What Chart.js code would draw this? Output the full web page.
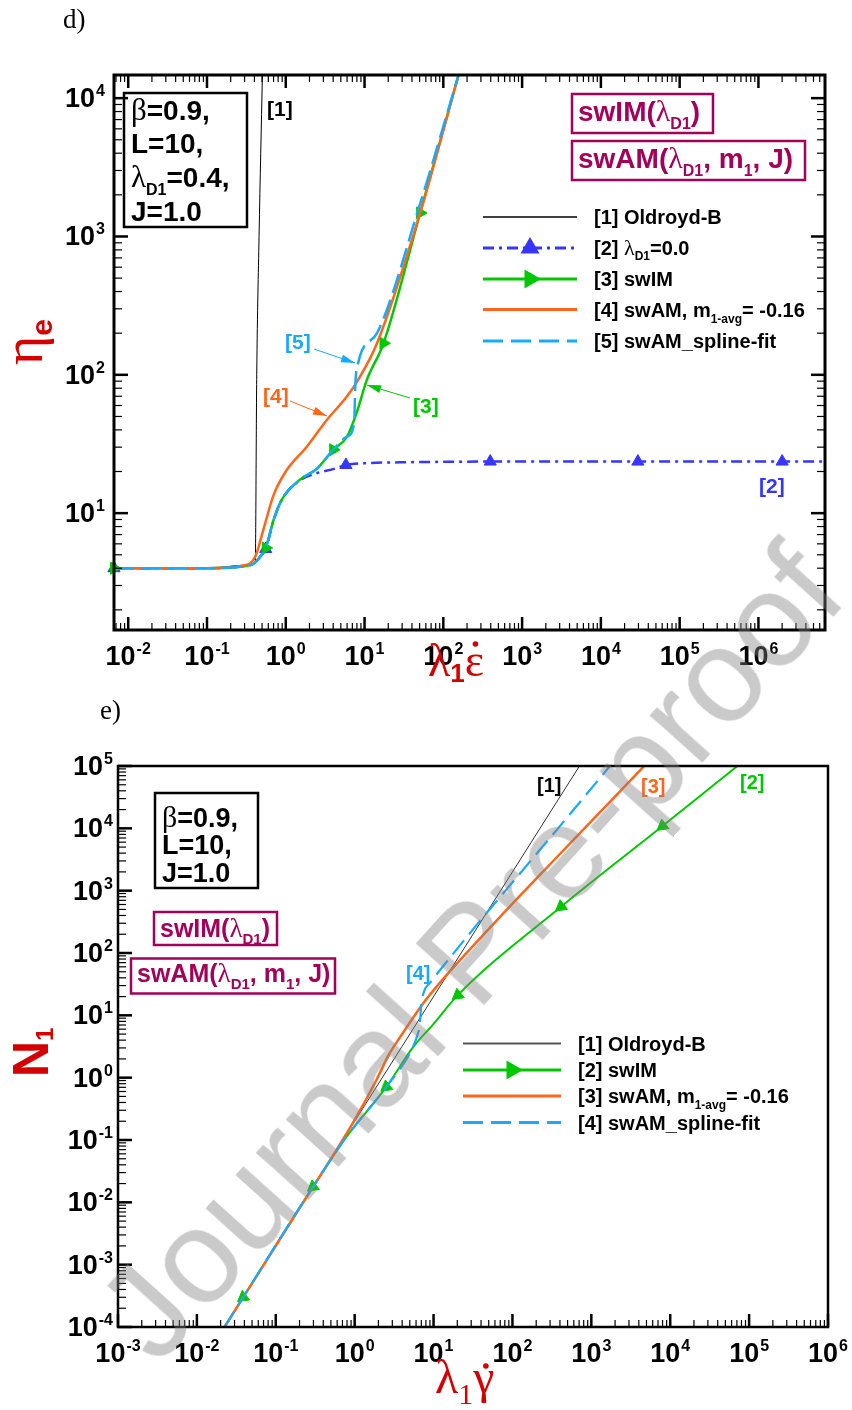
<!DOCTYPE html>
<html>
<head>
<meta charset="utf-8">
<title>Extensional viscosity and first normal stress difference</title>
<script src="https://cdn.jsdelivr.net/npm/chart.js@4.4.1/dist/chart.umd.min.js"></script>
<style>
  html, body { margin: 0; padding: 0; background: #ffffff; }
  body { position: relative; width: 852px; height: 1410px; overflow: hidden; }
  canvas { position: absolute; left: 0; }
  #chartD { top: 0; }
  #chartE { top: 700px; }
  #wm {
    position: absolute; left: 470px; top: 952px;
    transform: translate(-50%, -50%) rotate(-48deg);
    font: 134px "Liberation Sans", Arial, sans-serif;
    line-height: 1; white-space: nowrap;
    color: rgba(128, 128, 128, 0.42);
    pointer-events: none;
  }
</style>
</head>
<body>
<canvas id="chartD" width="852" height="700"></canvas>
<canvas id="chartE" width="852" height="710"></canvas>
<div id="wm">Journal Pre-proof</div>
<script>
// ---------- panel d) : eta_e versus lambda1 * strain rate ----------
const dXRange = [0.0066, 7.0e6];
const dYRange = [1.43, 14700];

const dOldroydX = [0.0066, 0.1, 0.3, 0.41, 0.428, 0.458, 0.505];
const dOldroydY = [4.0, 4.0, 4.2, 4.45, 100, 1000, 14700];

const dLam0X = [0.0066, 0.1, 0.3, 0.4, 0.48, 0.557, 0.7, 0.89, 1.5, 2.5, 4.0, 5.8, 10.7, 28, 100, 394, 2.95e4, 2.0e6, 7.0e6];
const dLam0Y = [4.0, 4.0, 4.15, 4.35, 4.9, 5.5, 8.9, 12.5, 17.2, 19.5, 20.8, 22.3, 23.0, 23.3, 23.5, 23.6, 23.6, 23.6, 23.6];
const dLam0Marks = [0, 5, 11, 15, 16, 17];

const dSwimX = [0.0066, 0.1, 0.3, 0.4, 0.48, 0.557, 0.7, 0.89, 1.5, 2.5, 4.0, 6.0, 7.9, 10.7, 17.4, 50.8, 156];
const dSwimY = [4.0, 4.0, 4.15, 4.35, 4.9, 5.6, 8.9, 12.5, 17.4, 21, 28.7, 35.8, 52.8, 92, 169, 1480, 14700];
const dSwimMarks = [0, 5, 10, 14, 15];

const dSwamX = [0.0066, 0.1, 0.3, 0.41, 0.52, 0.70, 1.0, 1.85, 3.3, 6.0, 8.3, 14.4, 50.8, 156];
const dSwamY = [4.0, 4.0, 4.2, 4.85, 7.6, 13.5, 20, 30.2, 47, 70, 92, 169, 1480, 14700];

const dFitX = [0.0066, 0.1, 0.3, 0.4, 0.48, 0.557, 0.7, 0.89, 1.5, 2.5, 4.0, 6.0, 7.4, 7.6, 8.3, 14.4, 50.8, 156];
const dFitY = [4.0, 4.0, 4.15, 4.35, 4.9, 5.6, 8.9, 12.5, 17.4, 21, 28.7, 35.8, 45, 80, 122, 200, 1730, 14700];

// ---------- panel e) : N1 versus lambda1 * shear rate ----------
const eXRange = [1e-3, 1e6];
const eYRange = [1e-4, 1e5];

const eOldroydX = [0.0224, 707];
const eOldroydY = [1e-4, 1e5];

const eSwimX = [0.0224, 0.0386, 0.296, 0.785, 2.52, 5.42, 10, 20.3, 413, 8000, 71100];
const eSwimY = [1e-4, 3.0e-4, 0.0177, 0.112, 0.71, 3.0, 7.3, 21.1, 552, 10900, 1e5];
const eSwimMarks = [1, 2, 4, 7, 8, 9];

const eSwamX = [0.0224, 0.296, 0.53, 1.0, 1.88, 2.77, 3.72, 7.33, 13.1, 68.4, 350, 1860, 4690];
const eSwamY = [1e-4, 0.0175, 0.056, 0.21, 0.91, 2.45, 4.36, 15.4, 37.7, 370, 3250, 29500, 1e5];

const eFitX = [0.0224, 0.296, 0.785, 2.52, 5.42, 6.3, 6.65, 7.0, 7.7, 8.9, 33, 123, 455, 1720];
const eFitY = [1e-4, 0.0177, 0.112, 0.71, 3.0, 5.0, 6.6, 15, 25.4, 32.5, 255, 1850, 13200, 1e5];

// ---------- styling ----------
const SANS = '"Liberation Sans", Arial, Helvetica, sans-serif';
const SERIF = '"Liberation Serif", "Times New Roman", serif';
const B = s => `bold ${s}px ${SANS}`;
const R = s => `${s}px ${SERIF}`;
const RED = '#d40000';
const MAGENTA = '#a3005a';
const C_BLUE = '#3636ff', C_GREEN = '#00c800', C_ORANGE = '#ff661a', C_CYAN = '#19a9ff';

const pts = (xs, ys) => xs.map((x, i) => ({ x, y: ys[i] }));
const marks = (list, r) => c => (list.includes(c.dataIndex) ? r : 0);

function series(xs, ys, o) {
  return Object.assign({
    data: pts(xs, ys),
    showLine: true,
    fill: false,
    cubicInterpolationMode: 'monotone',
    pointRadius: 0,
    pointHoverRadius: 0,
    clip: { left: 10, top: 0, right: 0, bottom: 0 }
  }, o);
}

function decadeTicks(min, max) {
  const out = [];
  const k0 = Math.floor(Math.log10(min)), k1 = Math.ceil(Math.log10(max));
  for (let k = k0; k <= k1; k++) {
    for (let m = 1; m <= 9; m++) {
      const v = m * Math.pow(10, k);
      if (v >= min * 0.9999 && v <= max * 1.0001) out.push({ v, major: m === 1, k });
    }
  }
  return out;
}

function powLabel(ctx, x, y, k, align) {
  const e = String(k);
  ctx.font = B(27); const w1 = ctx.measureText('10').width;
  ctx.font = B(16); const w2 = ctx.measureText(e).width;
  const w = w1 + 1 + w2;
  const x0 = align === 'center' ? x - w / 2 : x - w;
  ctx.fillStyle = '#000';
  ctx.font = B(27); ctx.fillText('10', x0, y);
  ctx.font = B(16); ctx.fillText(e, x0 + w1 + 1, y - 11);
}

function drawRich(ctx, x, y, parts, align, color) {
  let w = 0;
  for (const p of parts) { ctx.font = p[1]; w += ctx.measureText(p[0]).width; }
  let cx = align === 'center' ? x - w / 2 : (align === 'right' ? x - w : x);
  const pos = [];
  ctx.textAlign = 'left';
  for (const p of parts) {
    ctx.font = p[1];
    ctx.fillStyle = p[3] || color || '#000';
    ctx.fillText(p[0], cx, y + (p[2] || 0));
    const pw = ctx.measureText(p[0]).width;
    pos.push([cx, pw]);
    cx += pw;
  }
  return pos;
}

function arrow(ctx, x1, y1, x2, y2, color) {
  ctx.strokeStyle = color; ctx.fillStyle = color; ctx.lineWidth = 1; ctx.setLineDash([]);
  ctx.beginPath(); ctx.moveTo(x1, y1); ctx.lineTo(x2, y2); ctx.stroke();
  const a = Math.atan2(y2 - y1, x2 - x1), L = 14, W = 4;
  ctx.beginPath();
  ctx.moveTo(x2, y2);
  ctx.lineTo(x2 - L * Math.cos(a) + W * Math.sin(a), y2 - L * Math.sin(a) - W * Math.cos(a));
  ctx.lineTo(x2 - L * Math.cos(a) - W * Math.sin(a), y2 - L * Math.sin(a) + W * Math.cos(a));
  ctx.closePath(); ctx.fill();
}

function legendRow(ctx, x1, x2, y, st, textX, parts) {
  ctx.save();
  ctx.strokeStyle = st.color; ctx.lineWidth = st.width; ctx.setLineDash(st.dash || []);
  ctx.beginPath(); ctx.moveTo(x1, y); ctx.lineTo(x2, y); ctx.stroke();
  ctx.setLineDash([]);
  if (st.marker) {
    ctx.fillStyle = st.color; ctx.strokeStyle = st.color;
    Chart.helpers.drawPoint(ctx, { pointStyle: 'triangle', radius: 8, rotation: st.marker, borderWidth: 1 }, (x1 + x2) / 2, y);
  }
  ctx.restore();
  drawRich(ctx, textX, y + 7, parts, 'left', '#000');
}

function boxRect(ctx, x, y, w, h, color, lw) {
  ctx.save(); ctx.strokeStyle = color; ctx.lineWidth = lw; ctx.setLineDash([]);
  ctx.strokeRect(x, y, w, h); ctx.restore();
}

// ---------- annotations of panel d ----------
function drawPanelD(ctx) {
  ctx.fillStyle = '#000';
  ctx.font = R(27); ctx.fillText('d)', 63, 28);

  // axis titles
  const px = drawRich(ctx, 428, 676, [['λ', R(46)], ['1', B(26), 6], ['ε', R(46)]], 'left', RED);
  ctx.fillStyle = RED;
  ctx.beginPath(); ctx.arc(px[2][0] + px[2][1] / 2 + 1, 644, 2.8, 0, Math.PI * 2); ctx.fill();

  ctx.save(); ctx.translate(42, 343); ctx.rotate(-Math.PI / 2);
  drawRich(ctx, -22, 0, [['η', R(56)], ['e', B(30), 10]], 'left', RED);
  ctx.restore();

  // parameter box
  boxRect(ctx, 124, 93, 123, 134, '#000', 2.5);
  drawRich(ctx, 131, 120, [['β', R(31)], ['=0.9,', B(28)]], 'left', '#000');
  drawRich(ctx, 131, 153, [['L=10,', B(28)]], 'left', '#000');
  drawRich(ctx, 131, 187, [['λ', R(31)], ['D1', B(16), 8], ['=0.4,', B(28)]], 'left', '#000');
  drawRich(ctx, 131, 221, [['J=1.0', B(28)]], 'left', '#000');

  // model boxes
  boxRect(ctx, 572, 94, 141, 39, MAGENTA, 2.5);
  drawRich(ctx, 578, 121, [['swIM(', B(28)], ['λ', R(30)], ['D1', B(16), 8], [')', B(28)]], 'left', MAGENTA);
  boxRect(ctx, 572, 141, 233, 39, MAGENTA, 2.5);
  drawRich(ctx, 578, 168, [['swAM(', B(28)], ['λ', R(30)], ['D1', B(16), 8], [', m', B(28)], ['1', B(16), 8], [', J)', B(28)]], 'left', MAGENTA);

  // legend
  const lx1 = 483, lx2 = 577, tx = 594;
  legendRow(ctx, lx1, lx2, 217, { color: '#000', width: 1.5 }, tx, [['[1] Oldroyd-B', B(20)]]);
  legendRow(ctx, lx1, lx2, 248, { color: C_BLUE, width: 3, dash: [11, 5, 3, 5], marker: 0.0001 }, tx,
    [['[2] ', B(20)], ['λ', R(22)], ['D1', B(12), 5], ['=0.0', B(20)]]);
  legendRow(ctx, lx1, lx2, 279, { color: C_GREEN, width: 3, marker: 90 }, tx, [['[3] swIM', B(20)]]);
  legendRow(ctx, lx1, lx2, 309.5, { color: C_ORANGE, width: 3 }, tx,
    [['[4] swAM, m', B(20)], ['1-avg', B(12), 6], ['= -0.16', B(20)]]);
  legendRow(ctx, lx1, lx2, 341, { color: C_CYAN, width: 3, dash: [20, 8] }, tx, [['[5] swAM_spline-fit', B(20)]]);

  // curve labels
  drawRich(ctx, 267, 116, [['[1]', B(21)]], 'left', '#000');
  drawRich(ctx, 285, 349, [['[5]', B(21)]], 'left', C_CYAN);
  arrow(ctx, 314, 349, 355, 363, C_CYAN);
  drawRich(ctx, 263, 403, [['[4]', B(21)]], 'left', C_ORANGE);
  arrow(ctx, 290, 401, 327, 416, C_ORANGE);
  drawRich(ctx, 413, 413, [['[3]', B(21)]], 'left', C_GREEN);
  arrow(ctx, 410, 398, 367, 385, C_GREEN);
  drawRich(ctx, 759, 493, [['[2]', B(21)]], 'left', C_BLUE);
}

// ---------- annotations of panel e ----------
function drawPanelE(ctx) {
  ctx.fillStyle = '#000';
  ctx.font = R(27); ctx.fillText('e)', 100, 19);

  const px = drawRich(ctx, 435, 693, [['λ', R(48)], ['1', R(30), 11], ['γ', R(48)]], 'left', RED);
  ctx.fillStyle = RED;
  ctx.beginPath(); ctx.arc(px[2][0] + px[2][1] / 2 + 2, 666, 2.8, 0, Math.PI * 2); ctx.fill();

  ctx.save(); ctx.translate(48, 358); ctx.rotate(-Math.PI / 2);
  drawRich(ctx, -19, 0, [['N', B(50)], ['1', B(24), 5]], 'left', RED);
  ctx.restore();

  boxRect(ctx, 155, 93, 103, 95, '#000', 2.5);
  drawRich(ctx, 162, 127, [['β', R(30)], ['=0.9,', B(27)]], 'left', '#000');
  drawRich(ctx, 162, 153.5, [['L=10,', B(27)]], 'left', '#000');
  drawRich(ctx, 162, 181.5, [['J=1.0', B(27)]], 'left', '#000');

  boxRect(ctx, 154, 212, 123, 33, MAGENTA, 2.5);
  drawRich(ctx, 160, 237, [['swIM(', B(25)], ['λ', R(27)], ['D1', B(15), 7], [')', B(25)]], 'left', MAGENTA);
  boxRect(ctx, 131, 258.5, 204, 35, MAGENTA, 2.5);
  drawRich(ctx, 137, 282, [['swAM(', B(25)], ['λ', R(27)], ['D1', B(15), 7], [', m', B(25)], ['1', B(15), 7], [', J)', B(25)]], 'left', MAGENTA);

  const lx1 = 463, lx2 = 561, tx = 578;
  legendRow(ctx, lx1, lx2, 343.5, { color: '#555', width: 2 }, tx, [['[1] Oldroyd-B', B(20)]]);
  legendRow(ctx, lx1, lx2, 370, { color: C_GREEN, width: 3, marker: 90 }, tx, [['[2] swIM', B(20)]]);
  legendRow(ctx, lx1, lx2, 396, { color: C_ORANGE, width: 3 }, tx,
    [['[3] swAM, m', B(20)], ['1-avg', B(12), 6], ['= -0.16', B(20)]]);
  legendRow(ctx, lx1, lx2, 422.5, { color: C_CYAN, width: 3, dash: [20, 8] }, tx, [['[4] swAM_spline-fit', B(20)]]);

  drawRich(ctx, 537, 92, [['[1]', B(20)]], 'left', '#000');
  drawRich(ctx, 641, 93, [['[3]', B(20)]], 'left', C_ORANGE);
  drawRich(ctx, 740, 89, [['[2]', B(20)]], 'left', C_GREEN);
  drawRich(ctx, 406, 280, [['[4]', B(20)]], 'left', C_CYAN);
}

const frameSettings = {
  chartD: { sides: ['left', 'bottom', 'top', 'right'], border: 3, yGap: 9, extras: drawPanelD },
  chartE: { sides: ['left', 'bottom'], border: 2.5, yGap: 5, extras: drawPanelE }
};

// axis frame with inward log ticks, power-of-ten labels and panel annotations
const framePlugin = {
  id: 'logFrame',
  afterDatasetsDraw(chart) {
    const st = frameSettings[chart.canvas.id];
    const ctx = chart.ctx, a = chart.chartArea;
    const xs = chart.scales.x, ys = chart.scales.y;
    ctx.save();
    ctx.strokeStyle = '#000'; ctx.fillStyle = '#000'; ctx.setLineDash([]);
    const seg = (x1, y1, x2, y2, w) => { ctx.lineWidth = w; ctx.beginPath(); ctx.moveTo(x1, y1); ctx.lineTo(x2, y2); ctx.stroke(); };
    const xt = decadeTicks(xs.min, xs.max), yt = decadeTicks(ys.min, ys.max);
    for (const t of xt) {
      const p = xs.getPixelForValue(t.v), L = t.major ? 13 : 7, w = t.major ? 2.5 : 1.2;
      if (st.sides.includes('bottom')) seg(p, a.bottom, p, a.bottom - L, w);
      if (st.sides.includes('top')) seg(p, a.top, p, a.top + L, w);
    }
    for (const t of yt) {
      const p = ys.getPixelForValue(t.v), L = t.major ? 14 : 8, w = t.major ? 2.5 : 1.2;
      if (st.sides.includes('left')) seg(a.left, p, a.left + L, p, w);
      if (st.sides.includes('right')) seg(a.right, p, a.right - L, p, w);
    }
    ctx.lineWidth = st.border;
    ctx.strokeRect(a.left, a.top, a.right - a.left, a.bottom - a.top);
    ctx.textBaseline = 'alphabetic'; ctx.textAlign = 'left';
    for (const t of xt) if (t.major) powLabel(ctx, xs.getPixelForValue(t.v), a.bottom + 35, t.k, 'center');
    for (const t of yt) if (t.major) powLabel(ctx, a.left - st.yGap, ys.getPixelForValue(t.v) + 9, t.k, 'right');
    st.extras(ctx);
    ctx.restore();
  }
};

function logAxis(range, horizontal) {
  return {
    type: 'logarithmic', min: range[0], max: range[1],
    ticks: { display: false }, grid: { display: false, drawTicks: false }, border: { display: false },
    afterFit: s => { if (horizontal) s.height = 0; else s.width = 0; }
  };
}

function makeChart(id, datasets, xr, yr, pad) {
  return new Chart(document.getElementById(id), {
    type: 'scatter',
    data: { datasets },
    options: {
      responsive: false, animation: false, devicePixelRatio: 1, events: [],
      layout: { padding: pad },
      plugins: { legend: { display: false }, tooltip: { enabled: false } },
      scales: { x: logAxis(xr, true), y: logAxis(yr, false) }
    },
    plugins: [framePlugin]
  });
}

makeChart('chartD', [
  series(dFitX, dFitY, { label: '[5] swAM_spline-fit', borderColor: C_CYAN, borderWidth: 2.5, borderDash: [20, 7], order: 1 }),
  series(dSwamX, dSwamY, { label: '[4] swAM', borderColor: C_ORANGE, borderWidth: 2.5, order: 2 }),
  series(dSwimX, dSwimY, { label: '[3] swIM', borderColor: C_GREEN, borderWidth: 2.5, order: 3,
    pointRadius: marks(dSwimMarks, 7), pointStyle: 'triangle', pointRotation: 90,
    pointBackgroundColor: C_GREEN, pointBorderColor: C_GREEN, pointBorderWidth: 1 }),
  series(dLam0X, dLam0Y, { label: '[2] lambda_D1=0.0', borderColor: C_BLUE, borderWidth: 2.5, borderDash: [11, 5, 3, 5], order: 4,
    pointRadius: marks(dLam0Marks, 7), pointStyle: 'triangle',
    pointBackgroundColor: C_BLUE, pointBorderColor: C_BLUE, pointBorderWidth: 1 }),
  series(dOldroydX, dOldroydY, { label: '[1] Oldroyd-B', borderColor: '#000', borderWidth: 1, order: 5 })
], dXRange, dYRange, { left: 114, right: 27, top: 75, bottom: 70 });

makeChart('chartE', [
  series(eFitX, eFitY, { label: '[4] swAM_spline-fit', borderColor: C_CYAN, borderWidth: 2.2, borderDash: [18, 8], order: 1 }),
  series(eSwamX, eSwamY, { label: '[3] swAM', borderColor: C_ORANGE, borderWidth: 2.5, order: 2 }),
  series(eSwimX, eSwimY, { label: '[2] swIM', borderColor: C_GREEN, borderWidth: 2, order: 3,
    pointRadius: marks(eSwimMarks, 7), pointStyle: 'triangle', pointRotation: 232,
    pointBackgroundColor: C_GREEN, pointBorderColor: C_GREEN, pointBorderWidth: 1 }),
  series(eOldroydX, eOldroydY, { label: '[1] Oldroyd-B', borderColor: '#333', borderWidth: 1, order: 5 })
], eXRange, eYRange, { left: 118, right: 24, top: 66, bottom: 83 });
</script>
</body>
</html>
